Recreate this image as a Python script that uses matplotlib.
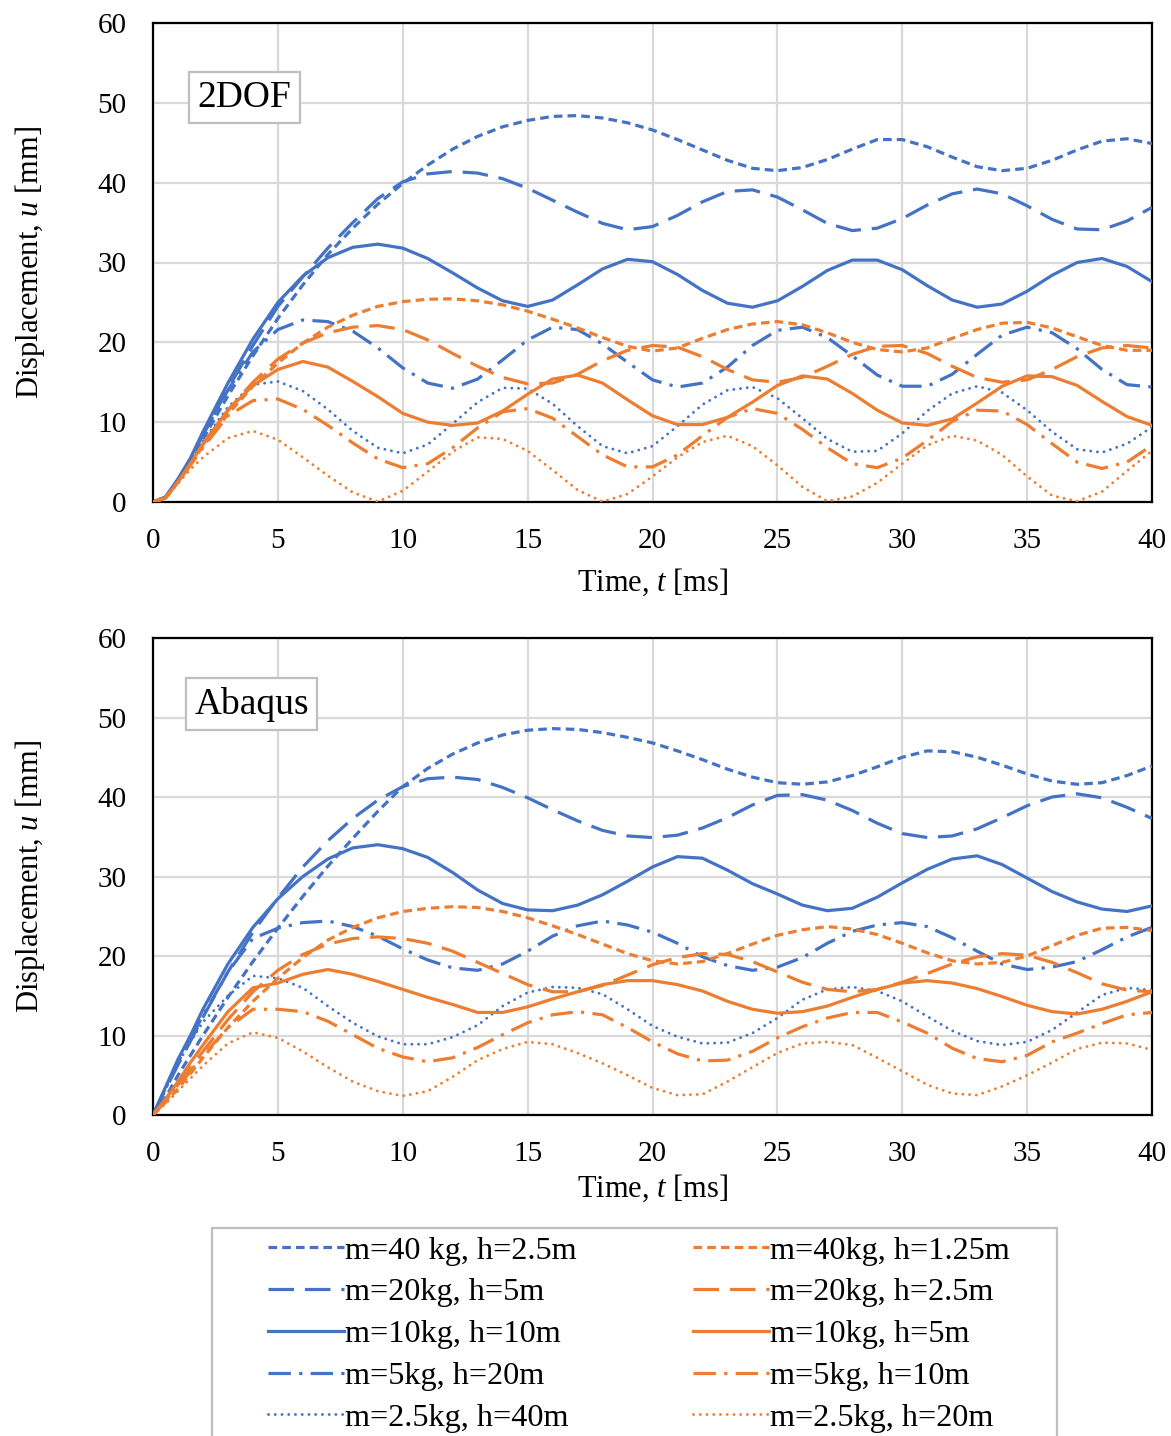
import matplotlib
matplotlib.use("Agg")
import matplotlib.pyplot as plt
from matplotlib.patches import Rectangle

# ---------------------------------------------------------------- data
# time samples [ms]
t_ms = [0, 0.5, 1, 1.5, 2] + list(range(3, 41))

# 2DOF model, displacement u [mm]
dof_b40 = [0, 0.6, 2.7, 5.1, 7.9, 13.3, 18.3, 23.0, 27.2, 31.0, 34.3, 37.3, 39.9, 42.2, 44.2, 45.8,
           47.0, 47.8, 48.3, 48.4, 48.1, 47.5, 46.6, 45.4, 44.1, 42.8, 41.8, 41.5, 41.9, 42.9, 44.2,
           45.4, 45.4, 44.5, 43.2, 42.0, 41.5, 41.8, 42.8, 44.1, 45.2, 45.5, 44.9]
dof_b20 = [0, 0.6, 2.8, 5.3, 8.4, 14.2, 19.6, 24.5, 28.2, 31.8, 35.0, 38.0, 40.1, 41.1, 41.4, 41.2,
           40.5, 39.3, 37.8, 36.3, 34.9, 34.1, 34.5, 35.9, 37.6, 38.9, 39.1, 38.2, 36.6, 34.9, 34.0,
           34.3, 35.5, 37.2, 38.6, 39.2, 38.6, 37.1, 35.4, 34.2, 34.1, 35.2, 36.9]
dof_b10 = [0, 0.6, 2.9, 5.5, 8.8, 14.9, 20.4, 25.0, 28.3, 30.6, 31.9, 32.3, 31.8, 30.5, 28.7, 26.8,
           25.2, 24.5, 25.3, 27.2, 29.2, 30.4, 30.1, 28.5, 26.5, 24.9, 24.4, 25.2, 27.0, 29.0, 30.3,
           30.3, 29.1, 27.1, 25.3, 24.4, 24.8, 26.4, 28.4, 30.0, 30.5, 29.5, 27.6]
dof_b5 = [0, 0.6, 2.8, 5.3, 8.4, 14.0, 18.8, 21.6, 22.8, 22.6, 21.4, 19.3, 16.8, 14.9, 14.25, 15.4,
          17.8, 20.3, 21.9, 21.6, 19.8, 17.5, 15.3, 14.4, 14.9, 16.9, 19.6, 21.5, 21.9, 20.6, 18.3,
          15.9, 14.5, 14.5, 16.0, 18.5, 20.9, 21.9, 21.2, 19.2, 16.6, 14.7, 14.4]
dof_b2_5 = [0, 0.6, 2.8, 5.0, 7.6, 11.9, 14.7, 15.1, 13.9, 11.6, 8.9, 6.8, 6.1, 7.2, 9.8, 12.5,
            14.3, 14.2, 12.3, 9.5, 7.0, 6.1, 7.0, 9.5, 12.2, 14.0, 14.4, 13.0, 10.5, 7.9, 6.3,
            6.4, 8.6, 11.4, 13.6, 14.5, 13.7, 11.5, 8.8, 6.6, 6.2, 7.3, 9.4]
dof_o40 = [0, 0.5, 2.5, 4.7, 7.0, 11.0, 14.5, 17.4, 19.9, 21.9, 23.4, 24.5, 25.1, 25.4, 25.45, 25.2,
           24.7, 23.9, 22.9, 21.8, 20.6, 19.5, 18.9, 19.3, 20.5, 21.6, 22.3, 22.6, 22.2, 21.2, 20.0,
           19.1, 18.8, 19.3, 20.5, 21.6, 22.4, 22.5, 21.8, 20.7, 19.6, 19.0, 19.0]
dof_o20 = [0, 0.5, 2.5, 4.8, 7.2, 11.5, 15.0, 17.9, 19.9, 21.2, 21.9, 22.1, 21.6, 20.3, 18.6, 17.0,
           15.6, 14.8, 14.9, 16.0, 17.7, 19.0, 19.6, 19.4, 18.2, 16.6, 15.3, 15.0, 15.6, 17.0, 18.5,
           19.5, 19.6, 18.6, 17.0, 15.6, 15.0, 15.3, 16.6, 18.2, 19.3, 19.6, 19.3]
dof_o10 = [0, 0.5, 2.5, 4.8, 7.3, 11.5, 14.6, 16.6, 17.6, 16.9, 15.1, 13.2, 11.1, 10.0, 9.6, 9.9,
           11.4, 13.5, 15.4, 15.9, 14.9, 12.8, 10.8, 9.7, 9.7, 10.6, 12.5, 14.6, 15.8, 15.4, 13.6,
           11.5, 9.9, 9.6, 10.4, 12.4, 14.5, 15.8, 15.7, 14.6, 12.6, 10.7, 9.6]
dof_o5 = [0, 0.5, 2.5, 4.6, 6.8, 10.8, 12.7, 12.9, 11.6, 9.6, 7.4, 5.4, 4.3, 4.8, 6.8, 9.3,
          11.3, 11.7, 10.5, 8.2, 5.9, 4.4, 4.4, 5.9, 8.3, 10.6, 11.7, 11.1, 9.1, 6.8, 4.8,
          4.3, 5.5, 7.7, 10.1, 11.5, 11.4, 9.7, 7.3, 5.0, 4.2, 5.0, 7.1]
dof_o2_5 = [0, 0.5, 2.3, 4.1, 5.6, 8.0, 8.9, 7.8, 5.6, 3.3, 1.2, 0.05, 1.4, 3.8, 6.3, 8.1,
            7.9, 6.4, 4.0, 1.5, 0.05, 1.0, 3.2, 5.6, 7.5, 8.3, 7.0, 4.6, 1.9, 0.1, 0.7,
            2.4, 4.8, 7.1, 8.3, 7.7, 5.9, 3.2, 0.8, 0.1, 1.3, 3.9, 6.4]

# Abaqus model, displacement u [mm]
abq_b40 = [0, 2.2, 5.0, 7.5, 10.0, 14.8, 19.3, 23.5, 27.5, 31.3, 34.8, 38.2, 41.3, 43.6, 45.4, 46.8,
           47.8, 48.4, 48.6, 48.5, 48.1, 47.5, 46.8, 45.8, 44.7, 43.5, 42.5, 41.8, 41.6, 41.9, 42.7,
           43.8, 45.0, 45.8, 45.7, 45.0, 44.0, 42.9, 42.0, 41.6, 41.8, 42.7, 43.9]
abq_b20 = [0, 3.2, 6.3, 9.3, 12.3, 18.0, 23.0, 27.3, 31.2, 34.5, 37.3, 39.6, 41.3, 42.3, 42.5, 42.2,
           41.2, 39.9, 38.4, 37.0, 35.8, 35.1, 34.9, 35.2, 36.1, 37.4, 39.0, 40.2, 40.3, 39.6, 38.3,
           36.7, 35.4, 34.9, 35.1, 36.0, 37.4, 38.9, 40.0, 40.4, 39.9, 38.7, 37.3]
abq_b10 = [0, 3.5, 7.0, 10.0, 13.3, 19.0, 23.6, 27.2, 30.0, 32.2, 33.6, 34.0, 33.5, 32.4, 30.5, 28.3,
           26.6, 25.8, 25.7, 26.4, 27.7, 29.4, 31.2, 32.5, 32.3, 30.8, 29.1, 27.8, 26.4, 25.7, 26.0,
           27.4, 29.2, 30.9, 32.2, 32.6, 31.5, 29.8, 28.1, 26.8, 25.9, 25.6, 26.3]
abq_b5 = [0, 3.3, 6.6, 9.6, 12.5, 18.0, 22.2, 23.5, 24.2, 24.4, 23.7, 22.5, 20.9, 19.5, 18.5, 18.2,
          19.0, 20.6, 22.5, 23.8, 24.4, 23.9, 23.0, 21.6, 19.9, 18.8, 18.2, 18.6, 19.8, 21.6, 23.1,
          23.9, 24.2, 23.7, 22.3, 20.6, 19.0, 18.3, 18.6, 19.3, 20.8, 22.4, 23.6]
abq_b2_5 = [0, 3.3, 6.5, 9.2, 11.7, 15.0, 17.5, 17.2, 16.0, 13.7, 11.6, 9.9, 8.9, 8.9, 9.8, 11.3,
            13.7, 15.4, 16.1, 16.0, 15.2, 13.3, 11.2, 9.85, 9.0, 9.1, 10.3, 12.2, 14.5, 15.8, 16.1,
            15.6, 14.3, 12.4, 10.6, 9.3, 8.8, 9.2, 10.7, 12.9, 15.1, 16.0, 15.7]
abq_o40 = [0, 1.6, 3.3, 5.2, 7.2, 11.0, 14.3, 17.2, 19.8, 22.0, 23.6, 24.8, 25.6, 26.0, 26.2, 26.1,
           25.6, 24.8, 23.8, 22.7, 21.5, 20.3, 19.4, 19.0, 19.3, 20.3, 21.5, 22.6, 23.3, 23.7, 23.4,
           22.7, 21.6, 20.4, 19.4, 19.0, 19.2, 20.0, 21.3, 22.6, 23.5, 23.6, 23.2]
abq_o20 = [0, 1.8, 3.8, 6.0, 8.0, 12.0, 15.5, 18.2, 20.2, 21.5, 22.2, 22.4, 22.2, 21.6, 20.6, 19.2,
           17.8, 16.4, 15.5, 15.5, 16.3, 17.6, 18.9, 19.8, 20.3, 20.2, 19.3, 18.0, 16.7, 15.8, 15.5,
           15.8, 16.7, 17.8, 19.0, 19.9, 20.3, 20.1, 19.2, 17.9, 16.5, 15.7, 15.5]
abq_o10 = [0, 2.0, 4.2, 6.6, 8.8, 13.0, 16.0, 16.6, 17.7, 18.3, 17.7, 16.8, 15.8, 14.8, 13.9, 12.9,
           12.9, 13.6, 14.6, 15.5, 16.4, 16.9, 16.9, 16.4, 15.6, 14.3, 13.3, 12.8, 13.0, 13.7, 14.8,
           15.8, 16.6, 16.9, 16.6, 15.9, 14.9, 13.8, 13.0, 12.7, 13.3, 14.3, 15.5]
abq_o5 = [0, 1.7, 3.5, 5.5, 7.5, 11.0, 13.3, 13.3, 13.0, 11.8, 10.1, 8.4, 7.3, 6.7, 7.2, 8.5,
          10.1, 11.6, 12.6, 13.0, 12.6, 11.0, 9.2, 7.7, 6.8, 6.9, 8.0, 9.7, 11.1, 12.2, 12.9,
          12.9, 11.7, 10.3, 8.4, 7.1, 6.7, 7.5, 9.2, 10.3, 11.5, 12.6, 12.9]
abq_o2_5 = [0, 1.4, 3.0, 4.6, 6.2, 9.0, 10.4, 9.7, 8.0, 6.0, 4.2, 3.0, 2.4, 3.0, 4.8, 6.9,
            8.3, 9.2, 8.9, 7.8, 6.5, 5.0, 3.4, 2.5, 2.6, 4.2, 6.0, 7.8, 9.0, 9.2, 8.8,
            7.2, 5.5, 3.8, 2.7, 2.5, 3.6, 5.0, 6.6, 8.3, 9.1, 9.0, 8.2]

series_labels = ["m=40 kg, h=2.5m", "m=20kg, h=5m", "m=10kg, h=10m", "m=5kg, h=20m",
                 "m=2.5kg, h=40m",
                 "m=40kg, h=1.25m", "m=20kg, h=2.5m", "m=10kg, h=5m", "m=5kg, h=10m",
                 "m=2.5kg, h=20m"]
x_ticks = [0, 5, 10, 15, 20, 25, 30, 35, 40]
y_ticks = [0, 10, 20, 30, 40, 50, 60]

# ---------------------------------------------------------------- style
BLUE = "#4472C4"
ORANGE = "#ED7D31"
SERIF = "Liberation Serif"

plt.rcParams["font.family"] = [SERIF, "DejaVu Serif"]
plt.rcParams["mathtext.fontset"] = "custom"
plt.rcParams["mathtext.rm"] = SERIF
plt.rcParams["mathtext.it"] = SERIF + ":italic"

short_dash = (0, (2.7, 1.6))
long_dash = (0, (8.0, 3.4))
dash_dot = (0, (7.0, 2.6, 1.0, 2.6))
dotted = (0, (0.01, 2.3))
styles = [short_dash, long_dash, "-", dash_dot, dotted]
LW = 2.3

fig = plt.figure(figsize=(11.71, 14.36), dpi=100)
W, H = 1171.0, 1436.0


def px_axes(left, top, right, bottom):
    return fig.add_axes([left / W, 1 - bottom / H, (right - left) / W, (bottom - top) / H])


ax_top = px_axes(153, 23, 1152, 502)
ax_bot = px_axes(153, 638, 1152, 1115)

panels = [
    (ax_top, [dof_b40, dof_b20, dof_b10, dof_b5, dof_b2_5],
     [dof_o40, dof_o20, dof_o10, dof_o5, dof_o2_5], "2DOF", (0.0916, 0.8445), -0.134),
    (ax_bot, [abq_b40, abq_b20, abq_b10, abq_b5, abq_b2_5],
     [abq_o40, abq_o20, abq_o10, abq_o5, abq_o2_5], "Abaqus", (0.0986, 0.8616), -0.12),
]

handles = []
for ax, blues, oranges, tag, tag_xy, xlab_y in panels:
    hs = []
    for color, group in ((BLUE, blues), (ORANGE, oranges)):
        for ls, u in zip(styles, group):
            dotted_line = ls is dotted
            (ln,) = ax.plot(t_ms, u, color=color, linestyle=ls,
                            lw=LW if not dotted_line else 2.1,
                            dash_capstyle="round" if dotted_line else "butt",
                            solid_joinstyle="round", zorder=3)
            hs.append(ln)
    handles = hs

    ax.set_xlim(0, 40)
    ax.set_ylim(0, 60)
    ax.set_xticks(x_ticks)
    ax.set_yticks(y_ticks)
    ax.grid(True, color="#d9d9d9", lw=1.6)
    ax.set_axisbelow(True)
    ax.tick_params(length=0, labelsize=21, pad=19)
    for sp in ax.spines.values():
        sp.set_color("black")
        sp.set_linewidth(1.6)

    ax.set_xlabel("Time, $t$ [ms]", fontsize=22)
    ax.xaxis.set_label_coords(0.5, xlab_y)
    ax.set_ylabel("Displacement, $u$ [mm]", fontsize=22)
    ax.yaxis.set_label_coords(-0.106, 0.5)

    ax.text(tag_xy[0], tag_xy[1], tag, transform=ax.transAxes, fontsize=27,
            ha="center", va="center", zorder=5,
            bbox=dict(boxstyle="square,pad=0.22", fc="white", ec="#bfbfbf", lw=1.6))

# legend below both panels, frame drawn separately
fig.patches.append(Rectangle((212 / W, -0.02), (1057 - 212) / W, 1 - 1228 / H + 0.02,
                             transform=fig.transFigure, fill=False, ec="#bfbfbf", lw=1.6,
                             zorder=0))
fig.legend(handles, series_labels, ncol=2, loc="upper left",
           bbox_to_anchor=(268 / W, 1 - 1236 / H), frameon=False, fontsize=23.2,
           handlelength=2.35, handletextpad=0.05, columnspacing=3.6,
           labelspacing=0.38, borderpad=0, borderaxespad=0)

fig.savefig("out.png", dpi=100)
